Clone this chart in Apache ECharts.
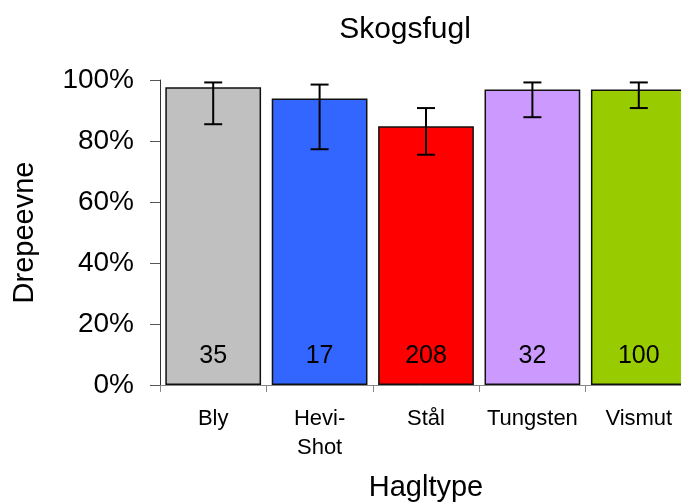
<!DOCTYPE html>
<html>
<head>
<meta charset="utf-8">
<script src="https://cdn.jsdelivr.net/npm/echarts@6/dist/echarts.min.js"></script>
<style>
    html, body { margin: 0; padding: 0; background: #fff; }
    #chart { width: 681px; height: 504px; }
</style>
</head>
<body>
<div id="chart"></div>
<script>
// data
const categories = ['Bly', 'Hevi-Shot', 'Stål', 'Tungsten', 'Vismut'];
const killRate = [97.6, 93.9, 84.8, 96.9, 96.9];
const errLow = [85.5, 77.3, 75.5, 87.8, 90.8];
const errHigh = [99.2, 98.5, 90.8, 99.2, 99.2];
const counts = [35, 17, 208, 32, 100];
const barColors = ['#C0C0C0', '#3366FF', '#FF0000', '#CC99FF', '#99CC00'];
const yTicks = [0, 20, 40, 60, 80, 100];

const FONT = 'Liberation Sans, Arial, sans-serif';

const chart = echarts.init(document.getElementById('chart'));

const option = {
    animation: false,
    textStyle: { fontFamily: FONT },
    title: {
        text: 'Skogsfugl',
        left: 405,
        top: 15,
        padding: 0,
        textAlign: 'center',
        textStyle: { fontFamily: FONT, fontSize: 30, fontWeight: 'normal', color: '#000' }
    },
    grid: {
        left: 160,
        top: 80,
        width: 532,
        height: 305,
        outerBoundsMode: 'none',
        containLabel: false
    },
    xAxis: {
        type: 'category',
        data: categories,
        name: 'Hagltype',
        nameLocation: 'middle',
        nameGap: 88,
        nameTextStyle: { fontFamily: FONT, fontSize: 29, color: '#000' },
        axisLine: { lineStyle: { color: '#888', width: 1 } },
        axisTick: { show: true, alignWithLabel: false, length: 7, lineStyle: { color: '#888' } },
        axisLabel: {
            fontFamily: FONT,
            fontSize: 22,
            color: '#000',
            margin: 19,
            lineHeight: 29,
            interval: 0,
            formatter: v => v.replace('-', '-\n')
        }
    },
    yAxis: {
        type: 'value',
        min: yTicks[0],
        max: yTicks[yTicks.length - 1],
        interval: 20,
        name: 'Drepeevne',
        nameLocation: 'middle',
        nameGap: 121,
        nameTextStyle: { fontFamily: FONT, fontSize: 29, color: '#000' },
        splitLine: { show: false },
        axisLine: { show: true, lineStyle: { color: '#333', width: 1 } },
        axisTick: { show: true, length: 10, lineStyle: { color: '#555' } },
        axisLabel: {
            fontFamily: FONT,
            fontSize: 28,
            color: '#000',
            margin: 26,
            formatter: '{value}%'
        }
    },
    series: [
        {
            type: 'bar',
            barCategoryGap: '10%',
            data: killRate.map((v, i) => ({
                value: v,
                itemStyle: { color: barColors[i] }
            })),
            itemStyle: { borderColor: '#111', borderWidth: 1.5 },
            label: {
                show: true,
                position: 'insideBottom',
                distance: 16,
                fontFamily: FONT,
                fontSize: 25,
                color: '#000',
                formatter: p => String(counts[p.dataIndex])
            }
        },
        {
            type: 'custom',
            data: errLow.map((lo, i) => [i, lo, errHigh[i]]),
            z: 5,
            renderItem: (params, api) => {
                const idx = api.value(0);
                const lo = api.coord([idx, api.value(1)]);
                const hi = api.coord([idx, api.value(2)]);
                const half = 9;
                const style = { stroke: '#000', lineWidth: 2 };
                return {
                    type: 'group',
                    children: [
                        { type: 'line', shape: { x1: lo[0], y1: lo[1], x2: hi[0], y2: hi[1] }, style },
                        { type: 'line', shape: { x1: lo[0] - half, y1: lo[1], x2: lo[0] + half, y2: lo[1] }, style },
                        { type: 'line', shape: { x1: hi[0] - half, y1: hi[1], x2: hi[0] + half, y2: hi[1] }, style }
                    ]
                };
            }
        }
    ]
};

chart.setOption(option);
</script>
</body>
</html>
